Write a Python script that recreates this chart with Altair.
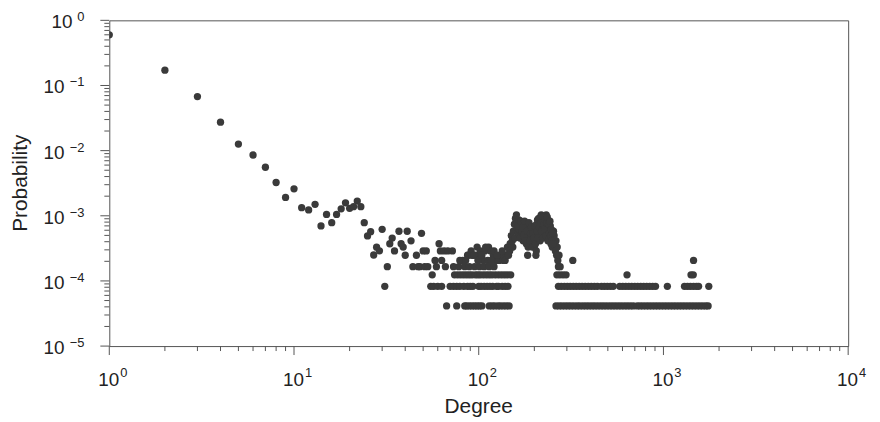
import altair as alt
import pandas as pd

N_NODES = 24200

# degrees 1..30: probabilities read directly
head_degree = list(range(1, 31))
head_prob = [0.60, 0.172, 0.0675, 0.0273, 0.0126, 0.00857, 0.00556, 0.00324, 0.00191, 0.00259,
             0.00133, 0.00123, 0.0015, 0.0007, 0.00105, 0.000785, 0.00105, 0.00128, 0.00158, 0.0013,
             0.00138, 0.00168, 0.00138, 0.000785, 0.00049, 0.00057, 0.00025, 0.00033, 0.00029, 0.00062]

# tail: degrees whose node count is 1, 2, 3, 4
deg_count1 = [67, 76, 84, 86, 89, 92, 95, 98, 101, 104, 114, 118, 122, 127, 131, 136, 141, 146,
              262, 272, 282, 293, 304, 315, 327, 340, 352, 366, 380, 394, 409, 424, 440, 457, 474,
              492, 511, 530, 550, 571, 592, 615, 638, 662, 687, 722, 748, 776, 806, 836, 868, 901,
              935, 970, 1007, 1045, 1085, 1126, 1168, 1213, 1259, 1306, 1356, 1407, 1460, 1516,
              1573, 1632, 1694, 1745]
deg_count2 = [31, 55, 57, 60, 63, 70, 73, 76, 79, 83, 87, 90, 93, 100, 103, 107, 111, 115, 119,
              125, 128, 134, 139, 144,
              270, 280, 291, 302, 313, 325, 337, 350, 363, 377, 392, 407, 423, 439, 462, 479, 497,
              516, 535, 580, 602, 625, 649, 673, 699, 725, 753, 781, 811, 842, 874, 906, 1050,
              1300, 1350, 1400, 1455, 1510, 1550, 1760]
deg_count3 = [56, 74, 77, 80, 83, 86, 89, 92, 96, 99, 102, 106, 110, 114, 118, 123, 128, 133, 138,
              143, 149, 265, 275, 286, 297, 635, 1410, 1450]
deg_count4 = [32, 44, 47, 48, 51, 53, 59, 66, 73, 78, 84, 89, 95, 101, 107, 114, 121]

# remaining degrees with larger counts
other_degree = [33, 34, 35, 37, 38, 39, 40, 41, 43, 46, 49, 50, 52, 58, 61, 62, 63, 65, 68, 72,
                79, 82, 87, 88, 92, 97, 98, 102, 106, 108, 112, 113, 116, 120, 124, 129, 132, 136,
                141, 143, 147, 153,
                85, 91, 94, 99, 104, 109, 117, 121, 126, 134, 139, 145,
                148, 150, 151, 152, 154, 156, 157, 158, 160, 161, 162, 164, 165, 166, 168, 170,
                171, 172, 174, 176, 178, 180, 181, 182, 184, 186, 188, 190, 192, 194, 196, 198,
                200, 202, 204, 206, 208, 210, 212, 214, 216, 218, 220, 222, 224, 226, 228, 230,
                232, 234, 236, 238, 240, 242, 244, 246, 248, 250, 252, 254, 256, 258, 260, 262,
                264, 266, 268, 270, 272, 276, 323, 1455,
                163, 167, 169, 173, 175, 177, 179, 183, 185, 187, 189, 191, 193, 195, 197, 199,
                201, 203, 205, 207, 209, 211, 213, 215, 217, 219, 221, 223, 225, 227, 229, 231,
                233, 235, 237, 239, 241, 243, 245, 247, 249, 251, 253]
other_count = [9, 11, 7, 14, 9, 8, 6, 14, 10, 6, 13, 7, 7, 5, 9, 7, 5, 7, 7, 7,
               5, 5, 6, 6, 6, 6, 8, 7, 5, 7, 5, 8, 7, 6, 5, 5, 6, 5,
               6, 8, 7, 8,
               5, 7, 6, 5, 6, 8, 5, 7, 6, 7, 5, 6,
               9, 12, 8, 10, 14, 18, 11, 22, 25, 16, 19, 13, 21, 15, 17, 12,
               19, 14, 10, 16, 13, 18, 9, 11, 6, 15, 12, 17, 9, 14, 11, 16,
               8, 13, 6, 18, 21, 15, 19, 12, 23, 25, 17, 20, 14, 22, 24, 18,
               25, 16, 20, 13, 15, 11, 17, 9, 13, 8, 11, 14, 12, 9, 7, 10,
               6, 8, 5, 4, 6, 4, 5, 5,
               17, 11, 20, 16, 12, 20, 10, 14, 8, 19, 10, 13, 16, 8, 13, 11,
               17, 9, 7, 14, 11, 22, 16, 10, 19, 14, 24, 11, 18, 15, 21, 12,
               19, 23, 10, 18, 13, 20, 12, 15, 10, 13, 9]

# axis ticks
major_x = [1, 10, 100, 1000, 10000]
x_exp = ["0", "1", "2", "3", "4"]
major_y = [1, 0.1, 0.01, 0.001, 0.0001, 0.00001]
y_exp = ["0", "\u22121", "\u22122", "\u22123", "\u22124", "\u22125"]
minor_mult = [2, 3, 4, 5, 6, 7, 8, 9]

rows = [{"degree": d, "prob": p} for d, p in zip(head_degree, head_prob)]
for lst, c in [(deg_count1, 1), (deg_count2, 2), (deg_count3, 3), (deg_count4, 4)]:
    rows += [{"degree": d, "prob": c / N_NODES} for d in lst]
rows += [{"degree": d, "prob": c / N_NODES} for d, c in zip(other_degree, other_count)]
df = pd.DataFrame(rows)

minor_x = [m * v for v in major_x[:-1] for m in minor_mult]
minor_y = [m * v for v in major_y[1:] for m in minor_mult]

W, H = 744, 328
FONT = "Liberation Sans"
TXT = "#222222"
TICK = "#555555"

xs = alt.Scale(type="log", domain=[1, 10000])
ys = alt.Scale(type="log", domain=[0.00001, 1])

points = alt.Chart(df).mark_circle(size=54, color="#3a3a3a", opacity=1, clip=True).encode(
    x=alt.X("degree:Q", scale=xs, axis=None),
    y=alt.Y("prob:Q", scale=ys, axis=None),
)

def xticks(vals, length):
    return alt.Chart(pd.DataFrame({"v": vals})).mark_rule(color=TICK, strokeWidth=1).encode(
        x=alt.X("v:Q", scale=xs, axis=None), y=alt.value(H), y2=alt.value(H + length))

def yticks(vals, length):
    return alt.Chart(pd.DataFrame({"v": vals})).mark_rule(color=TICK, strokeWidth=1).encode(
        y=alt.Y("v:Q", scale=ys, axis=None), x=alt.value(0), x2=alt.value(-length))

xlab_df = pd.DataFrame({"v": major_x, "e": x_exp})
ylab_df = pd.DataFrame({"v": major_y, "e": y_exp})

x_base = alt.Chart(xlab_df).mark_text(text="10", align="right", baseline="alphabetic", dx=10,
                                      font=FONT, fontSize=19, color=TXT).encode(
    x=alt.X("v:Q", scale=xs, axis=None), y=alt.value(H + 40))
x_sup = alt.Chart(xlab_df).mark_text(align="left", baseline="alphabetic", dx=11,
                                     font=FONT, fontSize=13, color=TXT).encode(
    x=alt.X("v:Q", scale=xs, axis=None), y=alt.value(H + 31), text="e:N")

y_sup = alt.Chart(ylab_df).mark_text(align="right", baseline="alphabetic", dy=1,
                                     font=FONT, fontSize=13, color=TXT).encode(
    y=alt.Y("v:Q", scale=ys, axis=None), x=alt.value(-25), text="e:N")
y_base0 = alt.Chart(ylab_df).transform_filter("datum.v >= 1").mark_text(
    text="10", align="right", baseline="alphabetic", dy=8, font=FONT, fontSize=19, color=TXT).encode(
    y=alt.Y("v:Q", scale=ys, axis=None), x=alt.value(-37))
y_baseneg = alt.Chart(ylab_df).transform_filter("datum.v < 1").mark_text(
    text="10", align="right", baseline="alphabetic", dy=8, font=FONT, fontSize=19, color=TXT).encode(
    y=alt.Y("v:Q", scale=ys, axis=None), x=alt.value(-45))

title_df = pd.DataFrame({"t": ["Degree", "Probability"]})
x_title = alt.Chart(title_df).transform_filter("datum.t == 'Degree'").mark_text(
    align="center", baseline="alphabetic", font=FONT, fontSize=21, color=TXT).encode(
    x=alt.value(W / 2), y=alt.value(H + 67), text="t:N")
y_title = alt.Chart(title_df).transform_filter("datum.t == 'Probability'").mark_text(
    align="center", baseline="alphabetic", angle=270, font=FONT, fontSize=21, color=TXT).encode(
    x=alt.value(-83), y=alt.value(H / 2), text="t:N")

chart = alt.layer(
    points,
    xticks(major_x, 9), xticks(minor_x, 5),
    yticks(major_y, 9), yticks(minor_y, 5),
    x_base, x_sup, y_sup, y_base0, y_baseneg, x_title, y_title,
).properties(
    width=W, height=H,
    autosize=alt.AutoSizeParams(type="none"),
    padding={"left": 102, "top": 11, "right": 24, "bottom": 72},
).configure_view(stroke="#555555", strokeWidth=1)

chart.save("out.html", embed_options={"renderer": "svg", "actions": False})
